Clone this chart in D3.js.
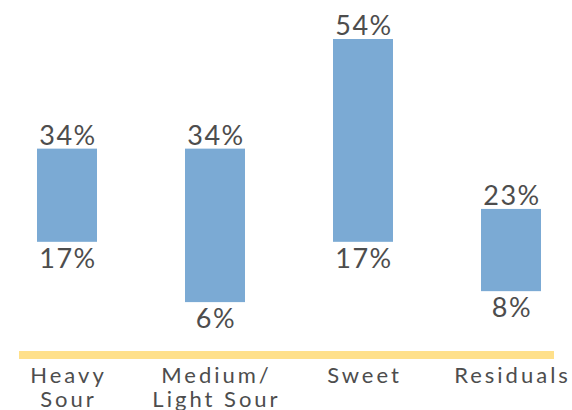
<!DOCTYPE html>
<html lang="en">
<head>
  <meta charset="UTF-8">
  <title>Range bars</title>
  <script src="https://d3js.org/d3.v7.min.js"></script>
  <style>
    body { margin: 0; background: #fff; }
    text { font-family: Lato, "Noto Sans", sans-serif; fill: #4d4d4d; }
  </style>
</head>
<body>
<div id="chart"></div>
<script>
// categories and their low / high shares
const categories = ["Heavy Sour", "Medium/Light Sour", "Sweet", "Residuals"];
const labelLines = [["Heavy", "Sour"], ["Medium/", "Light Sour"], ["Sweet"], ["Residuals"]];
const lows = [17, 6, 17, 8];
const highs = [34, 34, 54, 23];

const width = 572, height = 410;
const barW = 60;

const svg = d3.select("#chart").append("svg")
  .attr("width", width)
  .attr("height", height);

const x = d3.scalePoint().domain(categories).range([67, 511]);
const y = d3.scaleLinear().domain([0, d3.max(highs)]).range([335, 39]);

const data = categories.map((c, i) => ({ cat: c, lo: lows[i], hi: highs[i], lines: labelLines[i] }));

// bars
svg.selectAll("rect.bar")
  .data(data)
  .enter().append("rect")
  .attr("class", "bar")
  .attr("x", d => x(d.cat) - barW / 2)
  .attr("y", d => y(d.hi))
  .attr("width", barW)
  .attr("height", d => y(d.lo) - y(d.hi))
  .attr("fill", "#7baad4");

// high value labels
svg.selectAll("text.hi")
  .data(data)
  .enter().append("text")
  .attr("class", "hi")
  .attr("x", d => x(d.cat) + 1)
  .attr("y", d => y(d.hi) - 4)
  .attr("text-anchor", "middle")
  .style("font-size", "27px")
  .style("letter-spacing", "1.5px")
  .text(d => d.hi + "%");

// low value labels
svg.selectAll("text.lo")
  .data(data)
  .enter().append("text")
  .attr("class", "lo")
  .attr("x", d => x(d.cat) + 1)
  .attr("y", d => y(d.lo) + 26)
  .attr("text-anchor", "middle")
  .style("font-size", "27px")
  .style("letter-spacing", "1.5px")
  .text(d => d.lo + "%");

// yellow baseline
svg.append("rect")
  .attr("x", 19)
  .attr("y", 351)
  .attr("width", 535)
  .attr("height", 8)
  .attr("fill", "#ffe08a");

// category labels
const cat = svg.selectAll("text.cat")
  .data(data)
  .enter().append("text")
  .attr("class", "cat")
  .attr("text-anchor", "middle")
  .style("font-size", "22px")
  .style("letter-spacing", "3px");

cat.selectAll("tspan")
  .data(d => d.lines.map(l => ({ l, cx: x(d.cat) })))
  .enter().append("tspan")
  .attr("x", t => t.cx + 1.5)
  .attr("y", (t, i) => 383 + i * 24)
  .text(t => t.l);
</script>
</body>
</html>
